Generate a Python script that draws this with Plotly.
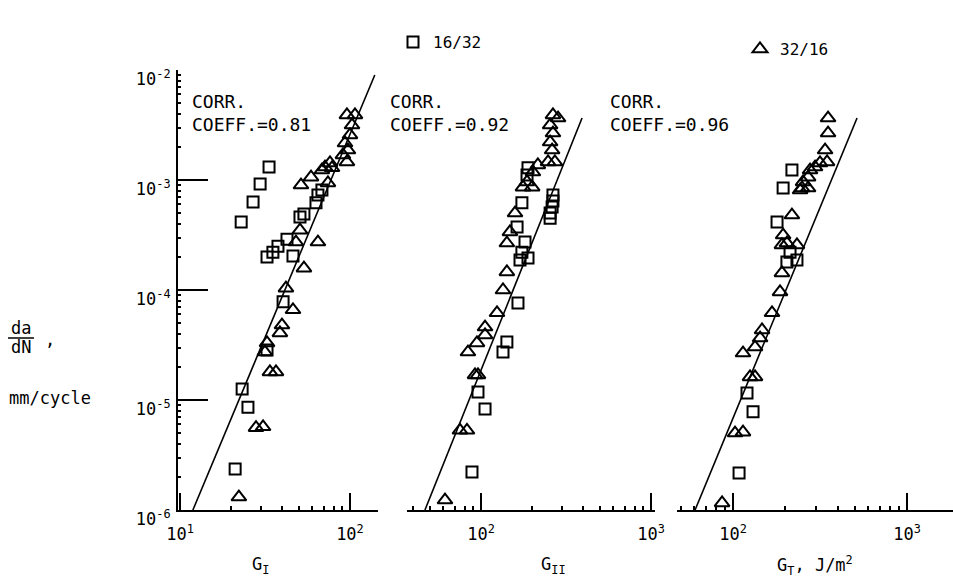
import plotly.graph_objects as go

# ---------------- data ----------------
# Panel 1: G_I
g1_sq_x = [33.4, 29.6, 26.9, 22.9, 32.5, 35.2, 37.7, 42.6, 46.2, 50.8, 53.6, 63.1, 64.8, 68.4, 40.4, 32.5, 23.2, 25.1, 21.1]
g1_sq_y = [1.31e-3, 9.2e-4, 6.3e-4, 4.15e-4, 2.0e-4, 2.2e-4, 2.5e-4, 2.9e-4, 2.04e-4, 4.6e-4, 4.9e-4, 6.2e-4, 7.3e-4, 8.1e-4, 7.8e-5, 2.85e-5, 1.26e-5, 8.6e-6, 2.36e-6]
g1_tr_x = [96.0, 107, 102.8, 100, 93.5, 97.3, 90.9, 96.0, 76.3, 71.3, 68.4, 78.4, 59.0, 51.5, 74.2,
           50.8, 48.1, 64.8, 53.6, 42.0, 46.2, 39.8, 38.7, 32.5, 31.6, 33.8, 36.7, 28.0, 30.8, 22.2]
g1_tr_y = [3.9e-3, 3.9e-3, 3.16e-3, 2.57e-3, 2.17e-3, 1.87e-3, 1.69e-3, 1.46e-3, 1.43e-3, 1.31e-3, 1.23e-3, 1.29e-3, 1.06e-3, 9.0e-4, 9.4e-4,
           3.5e-4, 2.73e-4, 2.73e-4, 1.58e-4, 1.04e-4, 6.6e-5, 4.8e-5, 4.07e-5, 3.3e-5, 2.73e-5, 1.8e-5, 1.8e-5, 5.6e-6, 5.7e-6, 1.31e-6]
g1_fit_x = [11.9, 140]
g1_fit_y = [1e-6, 9.0e-3]

# Panel 2: G_II
g2_sq_x = [189, 186.5, 174, 163, 181.5, 174, 189, 169.6, 265, 265, 262, 255, 255, 165, 142, 134.7, 96.0, 105.6, 88.5]
g2_sq_y = [1.29e-3, 1.11e-3, 6.2e-4, 3.74e-4, 2.73e-4, 2.2e-4, 1.95e-4, 1.87e-4, 7.3e-4, 6.44e-4, 5.68e-4, 5.0e-4, 4.5e-4, 7.6e-5, 3.37e-5, 2.73e-5, 1.18e-5, 8.3e-6, 2.21e-6]
g2_tr_x = [265, 284, 255, 265, 255, 262, 248, 272, 216, 202, 186.5, 200, 176.6, 158.5, 148, 142, 142, 134.7,
           124.2, 105.6, 105.6, 94.7, 83.8, 92.2, 96.0, 75.2, 82.7, 61.4]
g2_tr_y = [3.9e-3, 3.66e-3, 3.16e-3, 2.67e-3, 2.21e-3, 1.87e-3, 1.46e-3, 1.46e-3, 1.37e-3, 1.18e-3, 9.6e-4, 8.6e-4, 8.6e-4, 5.0e-4, 3.37e-4, 2.67e-4, 1.46e-4, 1.0e-4,
           6.2e-5, 4.6e-5, 3.9e-5, 3.3e-5, 2.73e-5, 1.69e-5, 1.69e-5, 5.3e-6, 5.3e-6, 1.23e-6]
g2_fit_x = [46.8, 393]
g2_fit_y = [1e-6, 3.66e-3]

# Panel 3: G_T
g3_sq_x = [218, 194, 179, 204, 233, 212.6, 120.3, 130.3, 108.3]
g3_sq_y = [1.23e-3, 8.45e-4, 4.15e-4, 1.8e-4, 1.87e-4, 2.2e-4, 1.16e-5, 7.8e-6, 2.17e-6]
g3_tr_x = [351.6, 351.6, 338, 347, 316, 296, 277, 270, 252.6, 249.3, 270, 242.7, 218, 194, 191, 233, 204, 191,
           186.2, 167.5, 146.8, 143, 133.8, 114.1, 125.2, 133.8, 102.7, 114.1, 86.5]
g3_tr_y = [3.66e-3, 2.67e-3, 1.87e-3, 1.46e-3, 1.43e-3, 1.31e-3, 1.23e-3, 1.06e-3, 9.6e-4, 8.45e-4, 8.45e-4, 8.1e-4, 4.8e-4, 3.16e-4, 2.57e-4, 2.57e-4, 2.67e-4, 1.43e-4,
           9.6e-5, 6.2e-5, 4.33e-5, 3.66e-5, 3.03e-5, 2.67e-5, 1.62e-5, 1.62e-5, 5.0e-6, 5.1e-6, 1.16e-6]
g3_fit_x = [60.5, 516]
g3_fit_y = [1e-6, 3.66e-3]

corr_coeffs = ["0.81", "0.92", "0.96"]
series_names = ["16/32", "32/16"]
y_tick_vals = [1e-6, 1e-5, 1e-4, 1e-3, 1e-2]
y_tick_text = ["10<sup>-6</sup>", "10<sup>-5</sup>", "10<sup>-4</sup>", "10<sup>-3</sup>", "10<sup>-2</sup>"]

# ---------------- figure ----------------
W, H = 953, 583
FONT = "DejaVu Sans Mono"
fig = go.Figure()

sq_marker = dict(symbol="square-open", size=11, color="black", line=dict(width=2, color="black"))
tr_marker = dict(symbol="triangle-up-open", size=13, color="black", line=dict(width=2, color="black"))

panels = [
    ("x", g1_sq_x, g1_sq_y, g1_tr_x, g1_tr_y, g1_fit_x, g1_fit_y),
    ("x2", g2_sq_x, g2_sq_y, g2_tr_x, g2_tr_y, g2_fit_x, g2_fit_y),
    ("x3", g3_sq_x, g3_sq_y, g3_tr_x, g3_tr_y, g3_fit_x, g3_fit_y),
]
for i, (xa, sx, sy, tx, ty, fx, fy) in enumerate(panels):
    fig.add_trace(go.Scatter(x=fx, y=fy, mode="lines", xaxis=xa, yaxis="y",
                             line=dict(color="black", width=1.6), showlegend=False, hoverinfo="skip"))
    fig.add_trace(go.Scatter(x=sx, y=sy, mode="markers", xaxis=xa, yaxis="y", marker=sq_marker,
                             name=series_names[0], showlegend=(i == 0), legend="legend"))
    fig.add_trace(go.Scatter(x=tx, y=ty, mode="markers", xaxis=xa, yaxis="y", marker=tr_marker,
                             name=series_names[1], showlegend=(i == 0), legend="legend2"))

def px2fx(p):
    return p / W

def py2fy(p):
    return 1 - p / H

def minor_vals(lo_exp, hi_exp):
    vals = []
    for e in range(lo_exp, hi_exp + 1):
        for m in range(2, 10):
            vals.append(m * 10 ** e)
    return vals

def xaxis_cfg(dom_px, rng, tickvals, ticktext, minors):
    return dict(
        type="log", domain=[px2fx(dom_px[0]), px2fx(dom_px[1])], range=rng,
        anchor="y", showline=True, linecolor="black", linewidth=2, mirror=False,
        showgrid=False, zeroline=False, automargin=False,
        tickmode="array", tickvals=tickvals, ticktext=ticktext,
        ticks="inside", ticklen=17, tickwidth=2, tickcolor="black",
        ticklabelstandoff=8,
        tickfont=dict(family=FONT, size=17, color="black"),
        minor=dict(tickmode="array", tickvals=minors, ticks="inside", ticklen=4, tickwidth=1.5, tickcolor="black", showgrid=False),
    )

legend_common = dict(orientation="h", xanchor="left", yanchor="top",
                     font=dict(family=FONT, size=16, color="black"),
                     bgcolor="rgba(0,0,0,0)", itemclick=False, itemdoubleclick=False)

layout = dict(
    width=W, height=H, margin=dict(l=0, r=0, t=0, b=0, autoexpand=False),
    paper_bgcolor="white", plot_bgcolor="white",
    font=dict(family=FONT, color="black"),
    showlegend=True,
    legend=dict(x=px2fx(393), y=py2fy(25), **legend_common),
    legend2=dict(x=px2fx(740), y=py2fy(32), **legend_common),
    xaxis=xaxis_cfg((178, 378), [0.988, 2.165], [10, 100], ["10<sup>1</sup>", "10<sup>2</sup>"], minor_vals(1, 1)),
    xaxis2=xaxis_cfg((407, 655), [1.5647, 3.0235], [100, 1000], ["10<sup>2</sup>", "10<sup>3</sup>"], minor_vals(1, 2)),
    xaxis3=xaxis_cfg((677, 953), [1.678, 3.264], [100, 1000], ["10<sup>2</sup>", "10<sup>3</sup>"], minor_vals(1, 3)),
    yaxis=dict(
        type="log", domain=[py2fy(510), py2fy(70)], range=[-6, -2], anchor="x",
        showline=True, linecolor="black", linewidth=2, showgrid=False, zeroline=False, automargin=False,
        tickmode="array", tickvals=y_tick_vals, ticktext=y_tick_text,
        ticks="inside", ticklen=30, tickwidth=2, tickcolor="black",
        ticklabelshift=9, ticklabelstandoff=2,
        tickfont=dict(family=FONT, size=17, color="black"),
        minor=dict(tickmode="array", tickvals=minor_vals(-6, -3), ticks="inside", ticklen=3, tickwidth=1.5, tickcolor="black", showgrid=False),
    ),
)
fig.update_layout(**layout)

annots = []
for cx, cc in zip([190, 388, 608], corr_coeffs):
    annots.append(dict(x=px2fx(cx), y=py2fy(89), xref="paper", yref="paper", xanchor="left", yanchor="top",
                       align="left", showarrow=False, text=f"CORR.<br>COEFF.={cc}",
                       font=dict(family=FONT, size=18, color="black")))
for cx, txt in zip([260, 553, 815], ["G<sub>I</sub>", "G<sub>II</sub>", "G<sub>T</sub>, J/m<sup>2</sup>"]):
    annots.append(dict(x=px2fx(cx), y=py2fy(565), xref="paper", yref="paper", xanchor="center", yanchor="middle",
                       showarrow=False, text=txt, font=dict(family=FONT, size=17, color="black")))
annots.append(dict(x=px2fx(21), y=py2fy(328), xref="paper", yref="paper", xanchor="center", yanchor="middle",
                   showarrow=False, text="da", font=dict(family=FONT, size=17, color="black")))
annots.append(dict(x=px2fx(21), y=py2fy(347), xref="paper", yref="paper", xanchor="center", yanchor="middle",
                   showarrow=False, text="dN", font=dict(family=FONT, size=17, color="black")))
annots.append(dict(x=px2fx(50), y=py2fy(340), xref="paper", yref="paper", xanchor="center", yanchor="middle",
                   showarrow=False, text=",", font=dict(family=FONT, size=17, color="black")))
annots.append(dict(x=px2fx(7), y=py2fy(398), xref="paper", yref="paper", xanchor="left", yanchor="middle",
                   showarrow=False, text="mm/cycle", font=dict(family=FONT, size=17, color="black")))
fig.update_layout(annotations=annots)
fig.add_shape(type="line", xref="paper", yref="paper", x0=px2fx(8), x1=px2fx(34), y0=py2fy(338), y1=py2fy(338),
              line=dict(color="black", width=1.5))

fig.write_html("out.html", config={"displayModeBar": False},
               post_script="document.body.style.margin='0';document.body.style.overflow='hidden';")
